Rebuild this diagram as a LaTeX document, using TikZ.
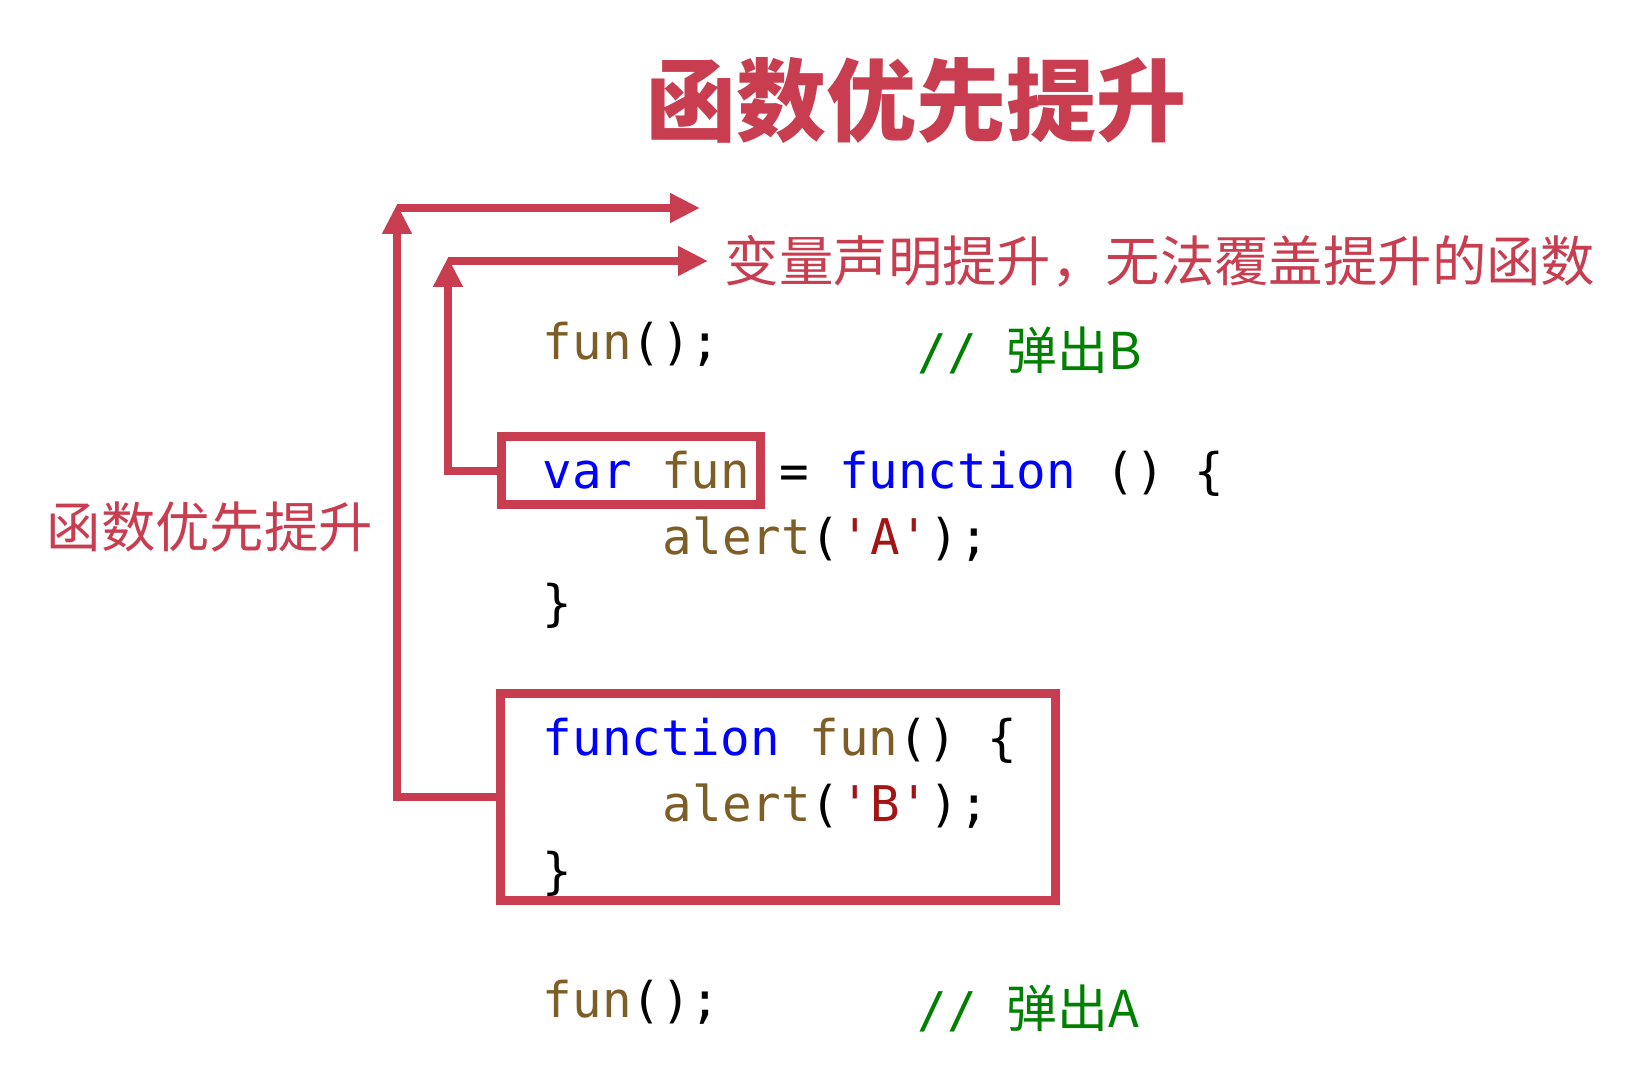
\documentclass[tikz,border=0pt]{standalone}
\usepackage{fontspec}
\usepackage{tikz}
\usetikzlibrary{
  arrows.meta,
  positioning
}
\setmonofont{DejaVu Sans Mono}
\newfontfamily\cjk{Noto Sans CJK SC}
\definecolor{hoistred}{RGB}{200,62,80}
\definecolor{kwblue}{RGB}{0,0,255}
\definecolor{fnbrown}{RGB}{125,94,38}
\definecolor{strred}{RGB}{163,21,21}
\definecolor{cmtgreen}{RGB}{0,128,0}
\newcommand{\jskw}[1]{\textcolor{kwblue}{#1}}
\newcommand{\jsfn}[1]{\textcolor{fnbrown}{#1}}
\newcommand{\jsstr}[1]{\textcolor{strred}{#1}}

\begin{document}
\begin{tikzpicture}[
  x=0.25pt, y=-0.25pt,
  code/.style={
    anchor=base west,
    inner sep=0pt,
    font=\ttfamily\fontsize{12.3}{14}\selectfont
  },
  cmt/.style={code, text=cmtgreen},
  note/.style={
    text=hoistred,
    inner sep=0pt,
    font=\cjk\fontsize{13.6}{16}\selectfont
  },
  codebox/.style={
    draw=hoistred,
    line width=2.25pt,
    inner sep=0pt
  },
  hoist/.style={
    draw=hoistred,
    line width=2pt,
    -{Triangle[width=7pt,length=7.5pt]}
  }
]
\useasboundingbox (0,0) rectangle (1649,1088);

\node[text=hoistred, inner sep=0pt, font=\cjk\bfseries\fontsize{22.5}{26}\selectfont] (title) at (916,101) {函数优先提升};
\node[note] (fnnote) at (210,527) {函数优先提升};
\node[note, anchor=west] (varnote) at (724,261) {变量声明提升，无法覆盖提升的函数};

% boxes round the two declarations
\node[codebox, minimum width=64.75pt, minimum height=17pt] (varbox) at (630.5,471) {};
\node[codebox, minimum width=138.75pt, minimum height=51.75pt] (fnbox) at (777.5,797.5) {};

% code
\node[code] (call1) at (542,360) {\jsfn{fun}();};
\node[cmt] (cmt1) at (917,370) {// {\cjk\fontsize{12.7}{15}\selectfont 弹出B}};
\node[code] (varline) at (542,489) {\jskw{var} \jsfn{fun} = \jskw{function} () \{};
\node[code] (alertA) at (662,555) {\jsfn{alert}(\jsstr{'A'});};
\node[code] (varclose) at (542,621) {\}};
\node[code] (fnline) at (542,756) {\jskw{function} \jsfn{fun}() \{};
\node[code] (alertB) at (662,822) {\jsfn{alert}(\jsstr{'B'});};
\node[code] (fnclose) at (542,889) {\}};
\node[code] (call2) at (542,1018) {\jsfn{fun}();};
\node[cmt] (cmt2) at (917,1028) {// {\cjk\fontsize{12.7}{15}\selectfont 弹出A}};

% hoisting arrows
\coordinate (fnturn) at (397,204);
\coordinate (fnend) at (700,208);
\coordinate (varturn) at (448,257);
\draw[hoist] (fnbox.west) -| (fnturn);
\draw[hoist] ([yshift=-1pt]fnturn) -- (fnend);
\draw[hoist] (varbox.west) -| (varturn);
\draw[hoist, shorten >=4pt] ([yshift=-1pt]varturn) -- (varnote.west);
\end{tikzpicture}
\end{document}
